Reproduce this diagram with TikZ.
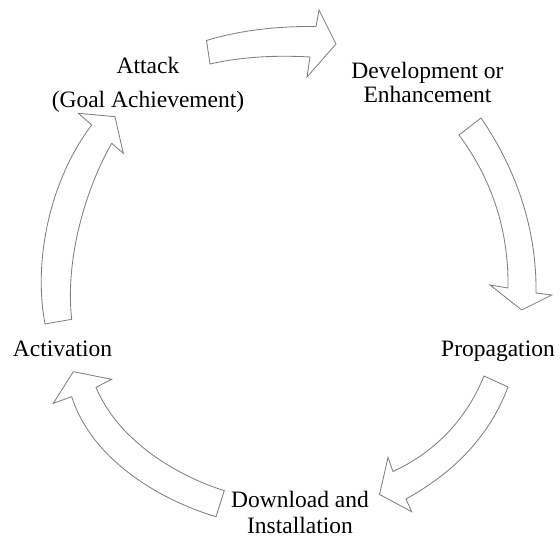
\documentclass[tikz,border=0pt]{standalone}
\usepackage{fontspec}
\setmainfont{Liberation Serif}
\begin{document}
\begin{tikzpicture}[x=1pt,y=-1pt,
  blockarrow/.style={draw=black!50, line width=0.85pt, fill=white, line join=miter},
  label/.style={inner sep=0pt, font=\fontsize{23.5}{23.4}\selectfont}]
\useasboundingbox (0,0) rectangle (560,537);

% stage labels
\node[label, anchor=north, align=center, font=\fontsize{23.5}{33.4}\selectfont]
  (attack) at (148,57.3) {Attack\\(Goal Achievement)};
\node[label, anchor=north, align=center]
  (develop) at (427.5,62.3) {Development or\\Enhancement};
\node[label, anchor=base] (propagate) at (498,357) {Propagation};
\node[label, anchor=north, align=center, font=\fontsize{23.5}{25.5}\selectfont]
  (download) at (300,491) {Download and\\Installation};
\node[label, anchor=base] (activate) at (62.5,357) {Activation};

% curved block arrows between the stages
% Attack -> Development
\draw[blockarrow] (206.5,40.5) .. controls (240,30) and (280,26) .. (316,26.5)
  -- (319,10) -- (336,44) -- (307,77) -- (310,57)
  .. controls (275,55) and (240,57) .. (210,64) -- cycle;
% Development -> Propagation
\draw[blockarrow] (481,118) .. controls (510,160) and (537,220) .. (536,293)
  -- (551.7,295) -- (521.7,310) -- (490,285) -- (508,288)
  .. controls (509,220) and (485,170) .. (459,135) -- cycle;
% Propagation -> Download
\draw[blockarrow] (508,387) .. controls (490,435) and (455,472) .. (406,499)
  -- (411.7,511.7) -- (379.5,494.5) -- (388,457.5) -- (393,471.5)
  .. controls (435,452) and (466,420) .. (484,376) -- cycle;
% Download -> Activation
\draw[blockarrow] (224.3,490.7) .. controls (175,475) and (118,440) .. (96,387.3)
  -- (111.7,379.3) -- (73.3,371.7) -- (53.3,403.3) -- (71.7,396.7)
  .. controls (92,460) and (160,500) .. (216,516.7) -- cycle;
% Activation -> Attack
\draw[blockarrow] (45,324) .. controls (33,260) and (50,180) .. (91.7,125)
  -- (78.3,113.3) -- (115,116.7) -- (123.3,153.3) -- (111.7,143.3)
  .. controls (85,190) and (65,260) .. (71.7,319.3) -- cycle;
\end{tikzpicture}
\end{document}
